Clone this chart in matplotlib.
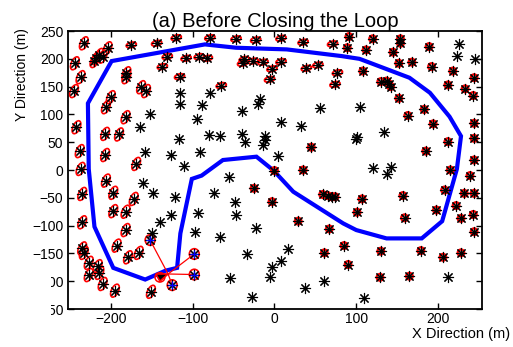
import numpy as np
import matplotlib.pyplot as plt
from matplotlib.patches import Ellipse, Polygon, Rectangle

plt.rcParams['font.family'] = ['Liberation Sans', 'DejaVu Sans']

# vehicle path (m)
path_x = [-1, 23, 84, 100, 137, 180, 205, 223, 228, 214, 190, 165, 104, 82, 15, -47, -85,
          -199, -228, -227, -220, -197, -158, -133, -119, -115, -101, -89, -63, -22, -1]
path_y = [-1, -39, -96, -108, -123, -123, -92, 2, 61, 96, 139, 166, 200, 205, 217, 220, 226,
          196, 120, 2, -102, -176, -197, -181, -176, -114, -16, -10, 18, 24, -1]

# mapped landmarks with large uncertainty (left side)
left_x = [-233, -204, -244, -218, -214, -210, -220, -237, -245, -181, -181, -163, -157, -200,
          -206, -182, -242, -207, -190, -238, -207, -169, -237, -206, -235, -197, -172, -197,
          -182, -235, -182, -193, -235, -233, -166, -179, -227, -216, -214, -227, -210, -195, -151]
left_y = [228, 219, 192, 201, 207, 204, 196, 167, 142, 174, 167, 149, 142, 131,
          113, 95, 77, 65, 64, 34, 27, 11, 2, -19, -43, -41, -52, -74,
          -75, -94, -108, -136, -141, -149, -149, -157, -167, -173, -185, -189, -205, -217, -219]

# mapped landmarks, medium uncertainty (top)
top_x = [-175, -144, -120, -79, -47, -23, 8, 35, 71, -131, -137, -108, -92, -82, -116, -65,
         -37, -39, -26, -14, 8, -3, 39, 53, -6, 77, 74]
top_y = [225, 228, 238, 238, 236, 234, 237, 230, 227, 204, 186, 201, 204, 201, 168, 152,
         199, 192, 196, 194, 195, 182, 183, 189, 163, 175, 154]

# mapped landmarks, small uncertainty (right / centre)
right_x = [91, 120, 154, 154, 89, 112, 145, 189, 152, 168, 192, 108, 130, 137, 140, 142, 218,
           244, 212, 233, 243, 152, 183, 163, 194, 244, 212, 244, 185, 244, 215, 239, 45, 35,
           0, -25, -3, 29, 67, 61, 59, 65, 70, 74, 85, 208, 232, 244, 222, 198, 228, 243, 244,
           107, 157, 101, 159, 130, 179, 206, 228, 90, 129, 165]
right_y = [240, 236, 236, 228, 220, 216, 212, 222, 192, 194, 186, 178, 159, 160, 155, 150, 178,
           166, 153, 146, 134, 129, 109, 98, 83, 84, 51, 57, 34, 18, 0, -10, 41, 0,
           -1, -33, -57, -92, -106, -149, -44, -46, -48, -48, -136, -36, -42, -42, -64, -72, -87, -80, -111,
           -52, -46, -76, -86, -146, -145, -157, -149, -170, -193, -191]

# landmarks observed from the current pose
obs_x = [-152, -98, -98, -125]
obs_y = [-126, -151, -188, -207]

# landmarks not yet in the map
free_x = [-115, -116, -152, -164, -95, -117, -158, -127, -91, -110, -88, -79, -18, -20, -40, 56,
          8, 32, -80, -67, -40, -36, -11, -11, -14, 4, 225, 223, 245, 104, 134, 100, 101, 121,
          142, 137, -161, -148, -122, -126, -140, -93, -97, -150, -55, -74, -48, -47, -22, -66,
          -33, 17, 8, -3, -6, -54, -27, 37, 60, 212, 110]
free_y = [138, 119, 101, 77, 92, 55, 32, 27, 33, 8, 117, 138, 127, 118, 106, 111,
          86, 79, 63, 62, 64, 50, 61, 54, 45, 26, 227, 206, 200, 114, 68, 56, 60, 3,
          6, -7, -24, -41, -48, -81, -94, -78, -112, -114, -13, -41, -58, -81, -104, -121,
          -151, -142, -163, -175, -193, -195, -229, -213, -200, -193, -230]

# current vehicle pose
robot_x = [-145, -130, -140]
robot_y = [-187, -187, -200]
sensor = (-130, -187)

fig = plt.figure(figsize=(5.13, 3.47), dpi=100)
ax = fig.add_axes([0.1331, 0.1095, 0.807, 0.801])

ax.plot(path_x, path_y, color='blue', lw=3, zorder=2, solid_joinstyle='miter')

def ellipses(xs, ys, w, h, ang, lw=1.2):
    for x, y in zip(xs, ys):
        ax.add_patch(Ellipse((x, y), w, h, angle=ang, fill=False, ec='red', lw=lw, zorder=3))

ellipses(left_x, left_y, 9, 24, -15)
ellipses(top_x, top_y, 13, 9, 30, 1.4)
ellipses(right_x, right_y, 8, 12, 0, 1.7)
ellipses(obs_x, obs_y, 12, 19, 0)
ax.add_patch(Ellipse((-140, -193), 12, 17, fill=False, ec='red', lw=1.1, zorder=3))

for ox, oy in zip(obs_x, obs_y):
    ax.plot([sensor[0], ox], [sensor[1], oy], color='red', lw=0.9, zorder=3)

star = (8, 2, 0)
all_x = left_x + top_x + right_x + obs_x + free_x
all_y = left_y + top_y + right_y + obs_y + free_y
ax.plot(all_x, all_y, ls='none', marker=star, ms=8, mec='black', mew=0.8, zorder=4)
ax.plot(obs_x, obs_y, ls='none', marker='+', ms=6, mec='blue', mew=1.0, zorder=5)

ax.add_patch(Polygon(list(zip(robot_x, robot_y)), closed=True, fc='black', ec='red', lw=1.2, zorder=6))

ax.set_xlim(-252, 254)
ax.set_ylim(-250, 248)
ax.set_xticks([-200, -100, 0, 100, 200])
ax.set_yticks(np.arange(-250, 251, 50))
ax.tick_params(direction='in', top=True, right=True, length=4, labelsize=10, width=1)
ax.tick_params(axis='x', pad=2)
for s in ax.spines.values():
    s.set_linewidth(1.3)

ax.set_title('(a) Before Closing the Loop', fontsize=14.5, pad=3)
ax.set_xlabel('X Direction (m)', fontsize=10.5, ha='right', va='center')
ax.xaxis.set_label_coords(1.067, -0.09)
ax.set_ylabel('Y Direction (m)', fontsize=10, va='center')
ax.yaxis.set_label_coords(-0.112, 0.842)

# the lowest tick labels are partly hidden in the original
fig.patches.append(Rectangle((0, 27 / 347), 51 / 513, 52 / 347, transform=fig.transFigure,
                             fc='white', ec='none', zorder=10))

fig.savefig('out.png', dpi=100)
